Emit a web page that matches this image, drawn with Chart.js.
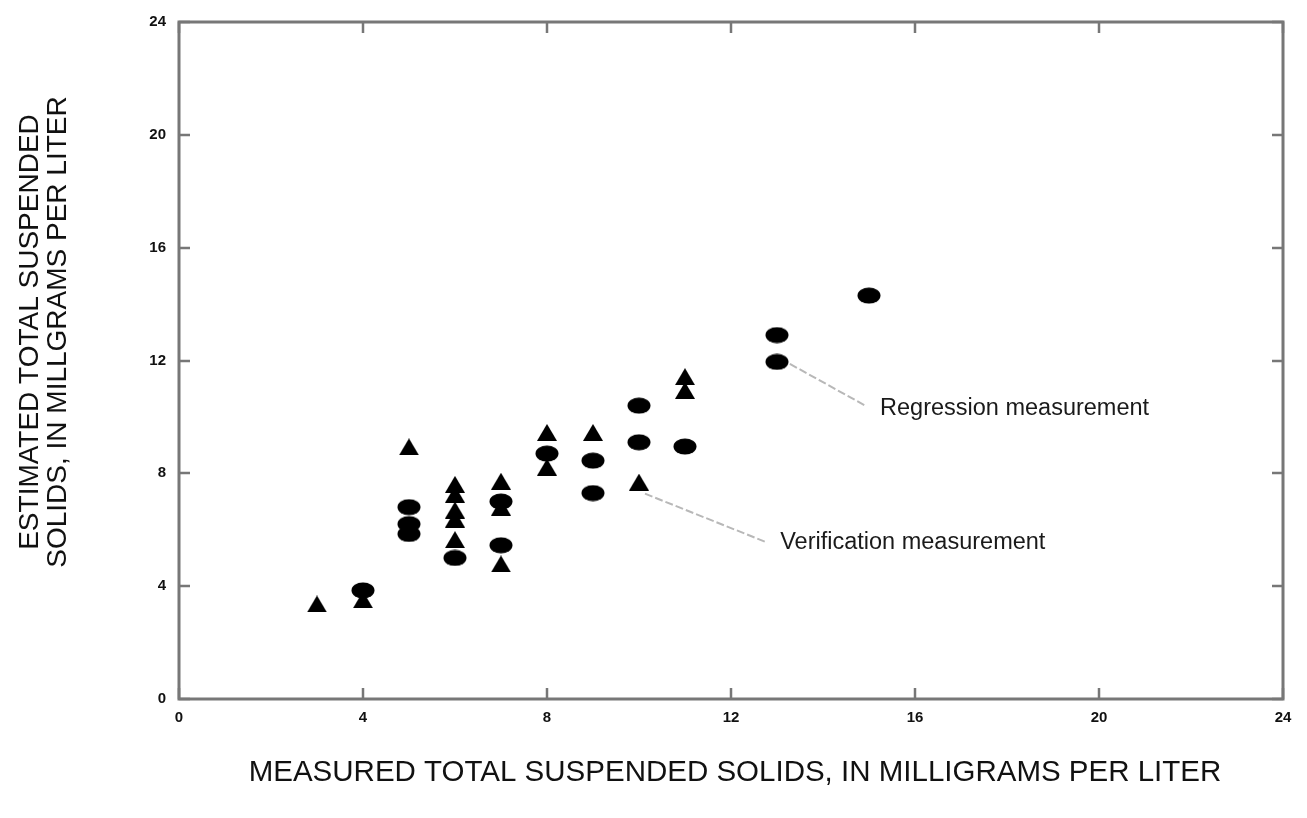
<!DOCTYPE html>
<html>
<head>
<meta charset="utf-8">
<script src="https://cdn.jsdelivr.net/npm/chart.js@4.4.0/dist/chart.umd.min.js"></script>
<style>
  html, body { margin: 0; padding: 0; background: #ffffff; }
  #wrap { width: 1307px; height: 818px; position: relative; }
</style>
</head>
<body>
<div id="wrap"><canvas id="c" width="1307" height="818"></canvas></div>
<script>
// ---- Data ----
const xTicks = [0, 4, 8, 12, 16, 20, 24];
const yTicks = [0, 4, 8, 12, 16, 20, 24];

const regressionX = [4, 5, 5, 5, 6, 7, 7, 8, 9, 9, 10, 10, 11, 13, 13, 15];
const regressionY = [3.85, 6.8, 6.2, 5.85, 5.0, 7.0, 5.45, 8.7, 8.45, 7.3, 10.4, 9.1, 8.95, 12.9, 11.95, 14.3];

const verificationX = [3, 4, 5, 6, 6, 6, 6, 6, 7, 7, 7, 8, 8, 9, 10, 11, 11];
const verificationY = [3.37, 3.52, 8.94, 7.61, 7.26, 6.7, 6.38, 5.65, 7.72, 6.8, 4.79, 9.45, 8.22, 9.45, 7.69, 11.43, 10.94];

const xTitle = "MEASURED TOTAL SUSPENDED SOLIDS, IN MILLIGRAMS PER LITER";
const yTitle = ["ESTIMATED TOTAL SUSPENDED", "SOLIDS, IN MILLGRAMS PER LITER"];

const regressionLabel = "Regression measurement";
const verificationLabel = "Verification measurement";
// leader line start/end and label anchor, in data units
const regressionLeader = [13.28, 11.88, 14.93, 10.39];
const regressionText = [15.24, 10.29];
const verificationLeader = [10.13, 7.28, 12.78, 5.55];
const verificationText = [13.07, 5.55];

// ---- Marker images ----
function ellipseMarker() {
  const c = document.createElement('canvas');
  c.width = 24; c.height = 17;
  const g = c.getContext('2d');
  g.fillStyle = '#000';
  g.beginPath();
  g.ellipse(12, 8.5, 11.5, 8, 0, 0, Math.PI * 2);
  g.fill();
  return c;
}
function triangleMarker() {
  const c = document.createElement('canvas');
  c.width = 20; c.height = 17;
  const g = c.getContext('2d');
  g.fillStyle = '#000';
  g.beginPath();
  g.moveTo(10, 0);
  g.lineTo(20, 17);
  g.lineTo(0, 17);
  g.closePath();
  g.fill();
  return c;
}

const toPts = (xs, ys) => xs.map((x, i) => ({ x: x, y: ys[i] }));
const FONT = '"Liberation Sans", Arial, Helvetica, sans-serif';

const decor = {
  id: 'decor',
  beforeDatasetsDraw(chart) {
    const { ctx, chartArea: a, scales } = chart;
    const xs = scales.x, ys = scales.y;
    ctx.save();
    ctx.strokeStyle = '#777777';
    ctx.lineWidth = 3;
    ctx.strokeRect(a.left, a.top, a.right - a.left, a.bottom - a.top);
    ctx.lineWidth = 2.5;
    const tl = 11;
    ctx.beginPath();
    xTicks.forEach(v => {
      const px = Math.round(xs.getPixelForValue(v));
      ctx.moveTo(px, a.bottom); ctx.lineTo(px, a.bottom - tl);
      ctx.moveTo(px, a.top); ctx.lineTo(px, a.top + tl);
    });
    yTicks.forEach(v => {
      const py = Math.round(ys.getPixelForValue(v));
      ctx.moveTo(a.left, py); ctx.lineTo(a.left + tl, py);
      ctx.moveTo(a.right, py); ctx.lineTo(a.right - tl, py);
    });
    ctx.stroke();
    ctx.restore();
  },
  afterDatasetsDraw(chart) {
    const { ctx, chartArea: a, scales } = chart;
    const xs = scales.x, ys = scales.y;
    const P = (x, y) => [xs.getPixelForValue(x), ys.getPixelForValue(y)];
    ctx.save();
    // leader lines
    ctx.strokeStyle = '#b8b8b8';
    ctx.lineWidth = 2;
    ctx.setLineDash([8, 3]);
    [regressionLeader, verificationLeader].forEach(L => {
      const p1 = P(L[0], L[1]), p2 = P(L[2], L[3]);
      ctx.beginPath(); ctx.moveTo(p1[0], p1[1]); ctx.lineTo(p2[0], p2[1]); ctx.stroke();
    });
    ctx.setLineDash([]);
    // labels
    ctx.fillStyle = '#1a1a1a';
    ctx.font = '23.5px ' + FONT;
    ctx.textAlign = 'left';
    ctx.textBaseline = 'middle';
    let p = P(regressionText[0], regressionText[1]);
    ctx.fillText(regressionLabel, p[0], p[1]);
    p = P(verificationText[0], verificationText[1]);
    ctx.fillText(verificationLabel, p[0], p[1]);
    // axis titles
    ctx.fillStyle = '#111111';
    ctx.font = '29.5px ' + FONT;
    ctx.textAlign = 'center';
    ctx.fillText(xTitle, 735, 773);
    ctx.font = '28px ' + FONT;
    ctx.translate(44, 332);
    ctx.rotate(-Math.PI / 2);
    ctx.fillText(yTitle[0], 0, -14);
    ctx.fillText(yTitle[1], 0, 14);
    ctx.restore();
  }
};

new Chart(document.getElementById('c'), {
  type: 'scatter',
  data: {
    datasets: [
      {
        label: 'Verification measurement',
        data: toPts(verificationX, verificationY),
        pointStyle: triangleMarker(),
        pointRadius: 10
      },
      {
        label: 'Regression measurement',
        data: toPts(regressionX, regressionY),
        pointStyle: ellipseMarker(),
        pointRadius: 10
      }
    ]
  },
  options: {
    responsive: false,
    animation: false,
    events: [],
    layout: { padding: { left: 0, right: 24, top: 19, bottom: 0 } },
    plugins: { legend: { display: false }, tooltip: { enabled: false } },
    scales: {
      x: {
        type: 'linear', min: 0, max: 24,
        afterFit(s) { s.height = 119; },
        afterBuildTicks(s) { s.ticks = xTicks.map(v => ({ value: v })); },
        grid: { display: false, drawTicks: false },
        border: { display: false },
        ticks: { padding: 10, color: '#111', font: { family: FONT, size: 15, weight: 'bold' } }
      },
      y: {
        type: 'linear', min: 0, max: 24,
        afterFit(s) { s.width = 179; },
        afterBuildTicks(s) { s.ticks = yTicks.map(v => ({ value: v })); },
        grid: { display: false, drawTicks: false },
        border: { display: false },
        ticks: { padding: 13, color: '#111', font: { family: FONT, size: 15, weight: 'bold' } }
      }
    }
  },
  plugins: [decor]
});
</script>
</body>
</html>
